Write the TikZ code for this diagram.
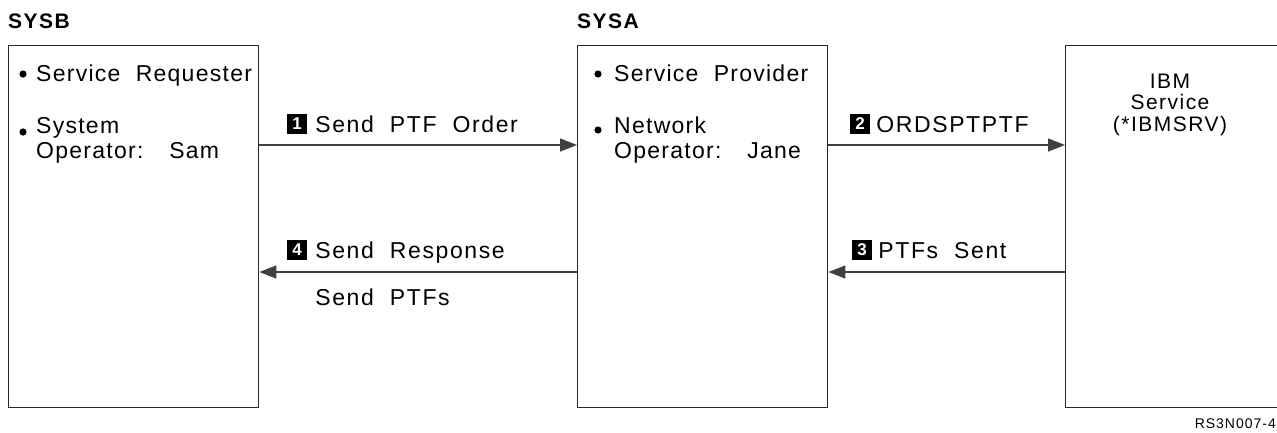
\documentclass[tikz,border=0pt]{standalone}
\usepackage{fontspec}
\setmainfont{Liberation Sans}
\newfontfamily\spacedfont[LetterSpace=7,WordSpace=2]{Liberation Sans}
\newfontfamily\itemfont[LetterSpace=5.5,WordSpace=2]{Liberation Sans}
\usetikzlibrary{arrows.meta, positioning}
\tikzset{
  sysbox/.style={draw=black!85, line width=1.4pt, anchor=north west, inner sep=0pt,
    minimum width=250pt, minimum height=362pt},
  sysname/.style={anchor=base west, inner sep=0pt, font=\spacedfont\bfseries\fontsize{21}{24}\selectfont},
  item/.style={anchor=base west, inner sep=0pt, align=left, font=\itemfont\fontsize{23}{25}\selectfont},
  msg/.style={-{Triangle[length=17pt,width=13pt]}, line width=1.4pt, color=black!75},
  stepno/.style={fill=black, text=white, inner sep=0pt, minimum width=20pt, minimum height=20pt,
    font=\bfseries\fontsize{17}{17}\selectfont},
  msgtext/.style={inner sep=0pt, text height=16pt, text depth=0pt, font=\spacedfont\fontsize{23}{25}\selectfont}
}
\begin{document}
\begin{tikzpicture}[x=1pt, y=-1pt]
  \useasboundingbox (0,0) rectangle (1277,432);
  \clip (0,0) rectangle (1277,432);
  % systems
  \node[sysbox] (B) at (8,45) {};
  \node[sysbox] (A) at (577,45) {};
  \node[sysbox] (S) at (1065,45) {};
  \node[sysname] (Bname) at ([yshift=17pt]B.north west) {SYSB};
  \node[sysname] (Aname) at ([yshift=17pt]A.north west) {SYSA};
  % requester side
  \fill ([shift={(15pt,-29pt)}]B.north west) circle (3.6pt);
  \node[item] (Breq) at ([shift={(28pt,-36pt)}]B.north west) {Service Requester};
  \fill ([shift={(15pt,-87pt)}]B.north west) circle (3.6pt);
  \node[item] (Bop) at ([shift={(28pt,-113pt)}]B.north west) {System\\Operator:\hspace{8pt} Sam};
  % provider side
  \fill ([shift={(21pt,-29pt)}]A.north west) circle (3.6pt);
  \node[item] (Aprov) at ([shift={(37pt,-36pt)}]A.north west) {Service Provider};
  \fill ([shift={(21pt,-85pt)}]A.north west) circle (3.6pt);
  \node[item] (Aop) at ([shift={(37pt,-113pt)}]A.north west) {Network\\Operator:\hspace{8pt} Jane};
  % service
  \node[item, anchor=base, align=center, font=\spacedfont\fontsize{21}{21.5}\selectfont] (Ssrv)
    at ([shift={(105pt,-86pt)}]S.north west) {IBM\\Service\\(*IBMSRV)};
  % flows
  \draw[msg] ([yshift=-100pt]B.north east) -- ([yshift=-100pt]A.north west);
  \draw[msg] ([yshift=-100pt]A.north east) -- ([yshift=-100pt]S.north west);
  \draw[msg] ([yshift=-227pt]S.north west) -- ([yshift=-227pt]A.north east);
  \draw[msg] ([yshift=-227pt]A.north west) -- ([yshift=-227pt]B.north east);
  \node[stepno] (n1) at (297,124) {1};
  \node[msgtext, right=8pt of n1] (m1) {Send PTF Order};
  \node[stepno] (n2) at (860,124) {2};
  \node[msgtext, right=6pt of n2] (m2) {ORDSPTPTF};
  \node[stepno] (n3) at (862,250) {3};
  \node[msgtext, right=6pt of n3] (m3) {PTFs Sent};
  \node[stepno] (n4) at (297,250) {4};
  \node[msgtext, right=8pt of n4] (m4) {Send Response};
  \node[msgtext, anchor=base west] (m4b) at ([yshift=-47pt]m4.base west) {Send PTFs};
  \node[anchor=base east, inner sep=0pt, font=\spacedfont\fontsize{14}{14}\selectfont] (fig) at (1276,428) {RS3N007-4};
\end{tikzpicture}
\end{document}
